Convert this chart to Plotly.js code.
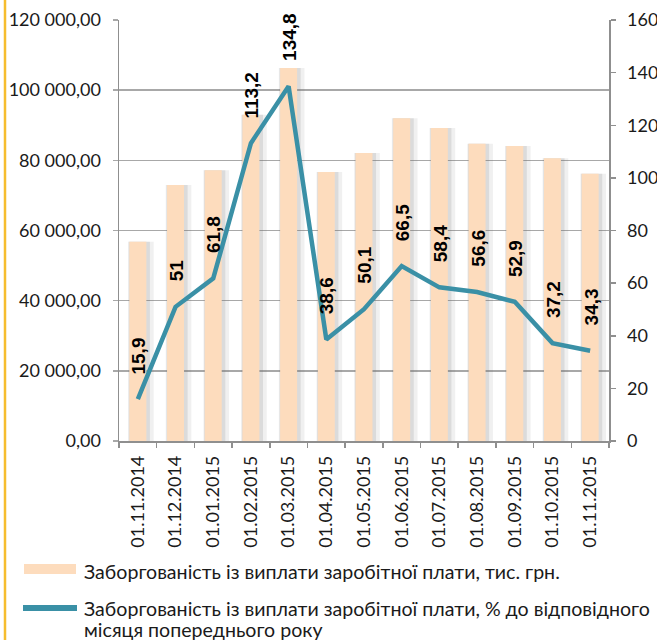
<!DOCTYPE html>
<html>
<head>
<meta charset="utf-8">
<script src="https://cdn.plot.ly/plotly-3.0.1.min.js"></script>
<style>
html,body{margin:0;padding:0;background:#fff;}
#chart{width:657px;height:640px;}
</style>
</head>
<body>
<div id="chart"></div>
<script>
// ---- data ----
const categories = ["01.11.2014","01.12.2014","01.01.2015","01.02.2015","01.03.2015","01.04.2015","01.05.2015","01.06.2015","01.07.2015","01.08.2015","01.09.2015","01.10.2015","01.11.2015"];
const debtValues = [56800, 73000, 77200, 93000, 106300, 76700, 82100, 92000, 89200, 84700, 84100, 80600, 76200];
const percentValues = [15.9, 51, 61.8, 113.2, 134.8, 38.6, 50.1, 66.5, 58.4, 56.6, 52.9, 37.2, 34.3];
const leftTickVals = [0, 20000, 40000, 60000, 80000, 100000, 120000];
const leftTickText = ["0,00", "20 000,00", "40 000,00", "60 000,00", "80 000,00", "100 000,00", "120 000,00"];
const rightTickVals = [0, 20, 40, 60, 80, 100, 120, 140, 160];
const seriesNames = ["Заборгованість із виплати заробітної плати, тис. грн.",
                     "Заборгованість із виплати заробітної плати, % до відповідного",
                     "місяця попереднього року"];

const barColor = '#fddcbd';
const lineColor = '#3a90a6';
const axisGrey = '#8f8f8f';
const gridGrey = '#a8a8a8';
const tickFont = {family: 'Lato, "DejaVu Sans", sans-serif', size: 18, color: '#1a1a1a'};
const legendFont = {family: 'Lato, "DejaVu Sans", sans-serif', size: 19.6, color: '#1a1a1a'};

// pixel -> paper helpers (plot area: l=119, t=20, w=490, h=421)
const L = 119, T = 20, W = 490, H = 421;
const px = x => (x - L) / W;
const py = y => (T + H - y) / H;

const traces = [
  {type: 'bar', x: categories, y: debtValues, width: 0.68, offset: -0.26,
   marker: {color: 'rgba(110,110,110,0.10)'}, hoverinfo: 'skip', showlegend: false},
  {type: 'bar', x: categories, y: debtValues, width: 0.56, offset: -0.24,
   marker: {color: 'rgba(110,110,110,0.16)'}, hoverinfo: 'skip', showlegend: false},
  {type: 'bar', x: categories, y: debtValues, width: 0.45, offset: -0.225,
   marker: {color: barColor}, name: seriesNames[0], showlegend: false},
  {type: 'scatter', mode: 'lines', x: categories, y: percentValues, yaxis: 'y2',
   line: {color: lineColor, width: 4.5}, name: seriesNames[1], showlegend: false}
];

const annotations = percentValues.map((v, i) => ({
  x: categories[i], y: v, xref: 'x', yref: 'y2',
  text: String(v).replace('.', ','),
  textangle: -90, showarrow: false,
  xanchor: 'center', yanchor: 'bottom', yshift: 23, xshift: 1,
  font: {family: '"Liberation Sans", Arial, sans-serif', size: 19, color: '#000', weight: 'bold'}
}));

annotations.push({
  xref: 'paper', yref: 'paper', x: px(82), y: py(571), xanchor: 'left', yanchor: 'middle',
  text: seriesNames[0], showarrow: false, align: 'left', font: legendFont
});
annotations.push({
  xref: 'paper', yref: 'paper', x: px(82), y: py(608), xanchor: 'left', yanchor: 'middle',
  text: seriesNames[1], showarrow: false, align: 'left', font: legendFont
});
annotations.push({
  xref: 'paper', yref: 'paper', x: px(82), y: py(629), xanchor: 'left', yanchor: 'middle',
  text: seriesNames[2], showarrow: false, align: 'left', font: legendFont
});

const shapes = [
  {type: 'line', xref: 'paper', yref: 'paper', x0: px(5), x1: px(5), y0: py(0), y1: py(640),
   line: {color: '#f6bd2e', width: 2.5}},
  {type: 'rect', xref: 'paper', yref: 'paper', x0: px(24), x1: px(76), y0: py(564), y1: py(574),
   fillcolor: barColor, line: {width: 0}},
  {type: 'line', xref: 'paper', yref: 'paper', x0: px(23), x1: px(77), y0: py(608), y1: py(608),
   line: {color: lineColor, width: 6}}
];

const layout = {
  width: 657, height: 640,
  margin: {l: L, r: 657 - L - W, t: T, b: 640 - T - H},
  paper_bgcolor: '#ffffff', plot_bgcolor: '#ffffff',
  barmode: 'overlay',
  showlegend: false,
  xaxis: {
    type: 'category', tickangle: -90, tickfont: tickFont,
    showline: true, linecolor: axisGrey, linewidth: 1.5,
    ticks: 'outside', ticklen: 5, tickcolor: axisGrey, tickwidth: 1.5,
    tickson: 'boundaries', showgrid: false, ticklabelstandoff: 6
  },
  yaxis: {
    range: [0, 120000], tickvals: leftTickVals, ticktext: leftTickText, tickfont: tickFont,
    showline: true, linecolor: axisGrey, linewidth: 1.5,
    ticks: 'outside', ticklen: 5, tickcolor: gridGrey, tickwidth: 1.5,
    showgrid: true, gridcolor: gridGrey, gridwidth: 1.5, zeroline: false,
    ticklabelstandoff: 8
  },
  yaxis2: {
    range: [0, 160], tickvals: rightTickVals, tickfont: tickFont,
    overlaying: 'y', side: 'right',
    showline: true, linecolor: axisGrey, linewidth: 1.5,
    ticks: 'outside', ticklen: 5, tickcolor: axisGrey, tickwidth: 1.5,
    showgrid: false, zeroline: false, ticklabelstandoff: 8
  },
  annotations: annotations,
  shapes: shapes
};

Plotly.newPlot('chart', traces, layout, {staticPlot: true, displayModeBar: false});
</script>
</body>
</html>
